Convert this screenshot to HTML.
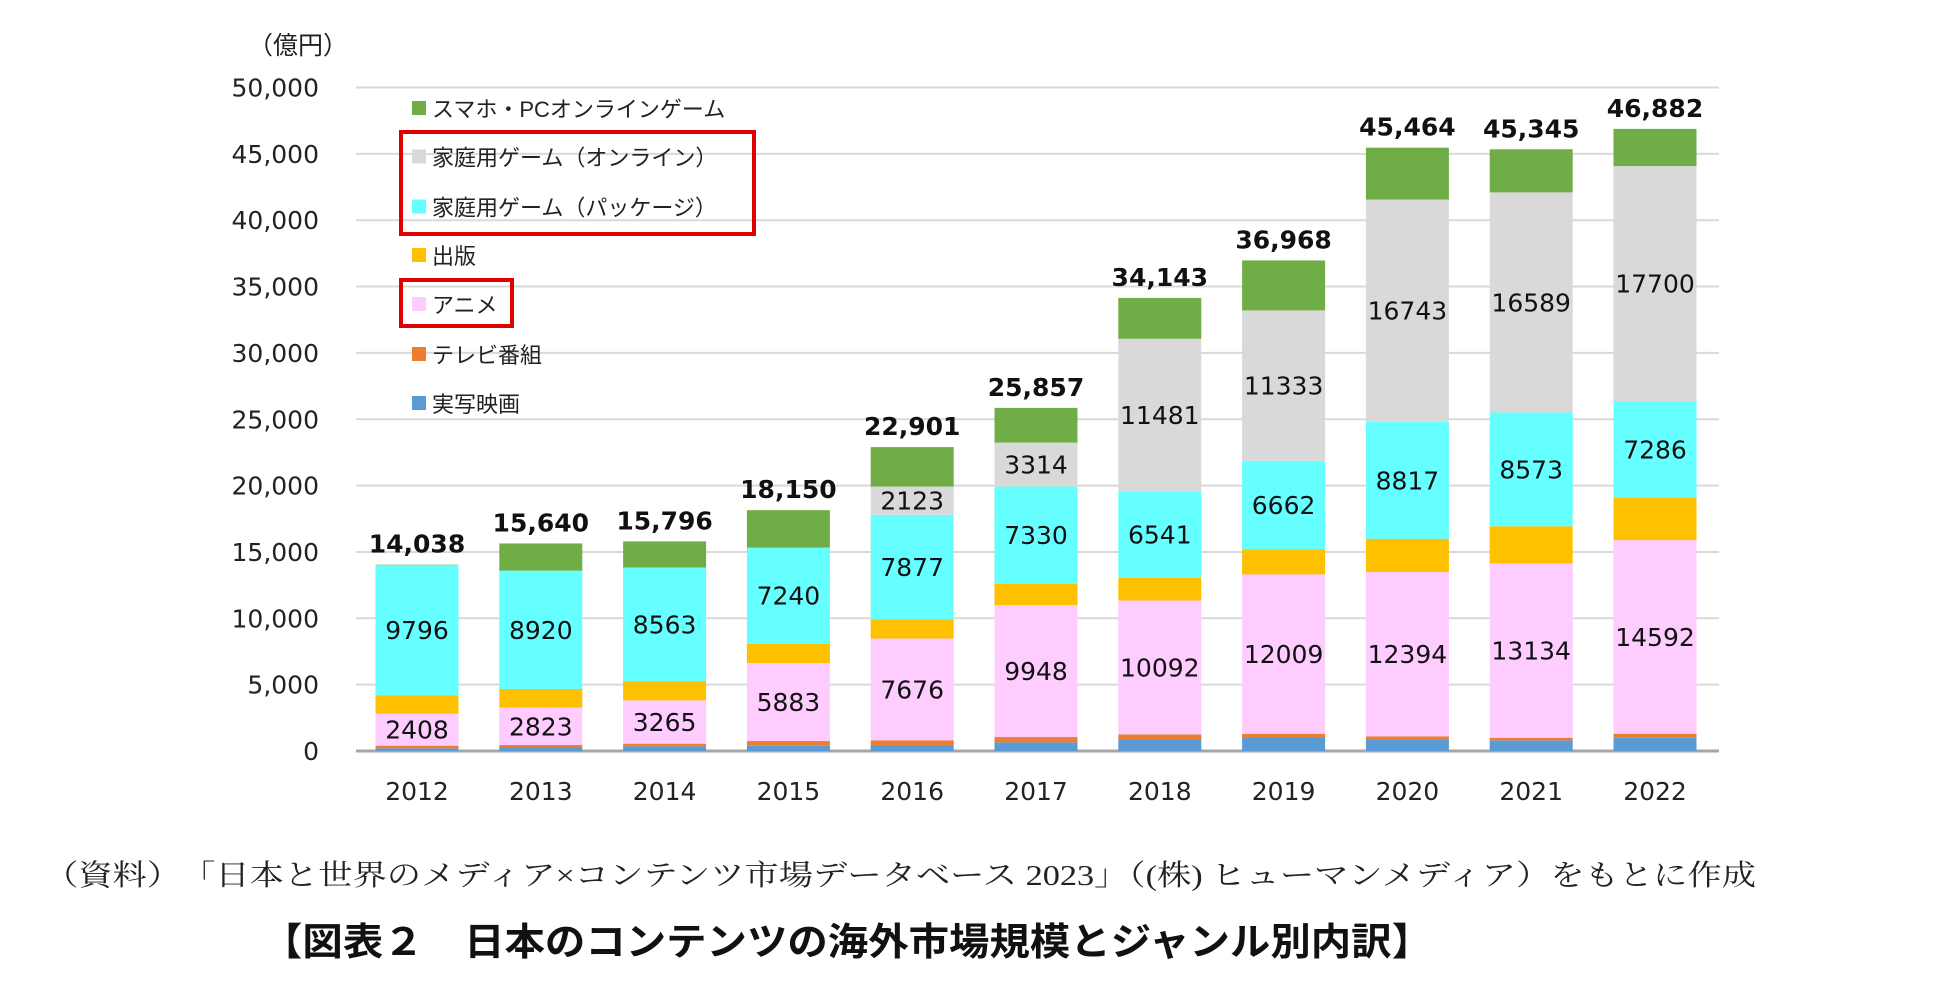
<!DOCTYPE html>
<html><head><meta charset="utf-8">
<style>
html,body{margin:0;padding:0;background:#fff;}
svg{display:block;}
</style></head>
<body>
<svg id="chart" width="1950" height="989" xmlns="http://www.w3.org/2000/svg">
  <text x="248" y="54" font-family="Liberation Sans, Noto Sans CJK JP, sans-serif" font-size="25" fill="#222">（億円）</text>
  <g id="grid"></g>
  <g id="bars"></g>
  <g id="labels"></g>
  <g id="legend"></g>
  <rect x="401" y="132" width="353" height="102" fill="none" stroke="#e00000" stroke-width="4"/>
  <rect x="401" y="280" width="111" height="46" fill="none" stroke="#e00000" stroke-width="4"/>
  <text x="44" y="885" textLength="1712" lengthAdjust="spacingAndGlyphs" font-family="Liberation Serif, Noto Serif CJK SC, serif" font-size="29" fill="#222">（資料）　「日本と世界のメディア×コンテンツ市場データベース 2023」（(株) ヒューマンメディア）をもとに作成</text>
  <text x="262" y="955" textLength="1170" lengthAdjust="spacingAndGlyphs" font-family="Liberation Sans, Noto Sans CJK JP, sans-serif" font-size="38" font-weight="bold" fill="#111">【図表２　日本のコンテンツの海外市場規模とジャンル別内訳】</text>
</svg>
<script>
const years = ["2012","2013","2014","2015","2016","2017","2018","2019","2020","2021","2022"];
const film = [200,300,350,400,450,650,900,1050,900,800,1000];
const tv = [200,150,200,350,350,400,350,250,200,200,300];
const anime = [2408,2823,3265,5883,7676,9948,10092,12009,12394,13134,14592];
const publishing = [1400,1400,1450,1450,1450,1600,1700,1900,2500,2800,3200];
const packageGame = [9796,8920,8563,7240,7877,7330,6541,6662,8817,8573,7286];
const onlineGame = [0,0,0,0,2123,3314,11481,11333,16743,16589,17700];
const mobileGame = [34,2047,1968,2827,2975,2615,3079,3764,3910,3249,2804];
const totals = [14038,15640,15796,18150,22901,25857,34143,36968,45464,45345,46882];
const yTicks = [0,5000,10000,15000,20000,25000,30000,35000,40000,45000,50000];
const seriesNames = ["スマホ・PCオンラインゲーム","家庭用ゲーム（オンライン）","家庭用ゲーム（パッケージ）","出版","アニメ","テレビ番組","実写映画"];

const NS="http://www.w3.org/2000/svg";
const X0=356, X1=1719, Y0=751, YTOP=87.5, YMAX=50000;
const step=123.8, first=417, barW=83;
const y=v=>Y0-(v/YMAX)*(Y0-YTOP);
const xc=i=>first+i*step;
function mk(tag,attrs,parent){const e=document.createElementNS(NS,tag);for(const k in attrs)e.setAttribute(k,attrs[k]);parent.appendChild(e);return e;}
const grid=document.getElementById('grid'), bars=document.getElementById('bars'), labels=document.getElementById('labels'), legend=document.getElementById('legend');
const fnt='"DejaVu Sans", Verdana, sans-serif';

yTicks.forEach(t=>{
  const l=mk('line',{x1:X0,x2:X1,y1:y(t),y2:y(t),stroke:t===0?'#a6a6a6':'#d9d9d9','stroke-width':t===0?3:2},grid);
  
  
  const tx=mk('text',{x:319,y:y(t)+9,'text-anchor':'end','font-family':fnt,'font-size':25,fill:'#222'},grid);
  tx.textContent=t.toLocaleString('en-US');
  
  
});

const series=[
 {key:'film',data:film,color:'#5b9bd5',label:false},
 {key:'tv',data:tv,color:'#ed7d31',label:false},
 {key:'anime',data:anime,color:'#ffccff',label:true},
 {key:'publishing',data:publishing,color:'#ffc000',label:false},
 {key:'package-game',data:packageGame,color:'#66ffff',label:true},
 {key:'online-game',data:onlineGame,color:'#d9d9d9',label:true},
 {key:'mobile-game',data:mobileGame,color:'#70ad47',label:false}
];

years.forEach((yr,i)=>{
  let base=0;
  const cx=xc(i);
  series.forEach(s=>{
    const v=s.data[i];
    if(v>0){
      const r=mk('rect',{x:cx-barW/2,y:y(base+v),width:barW,height:y(base)-y(base+v),fill:s.color},bars);
      
      
      if(s.label && v>1000){
        const t=mk('text',{x:cx,y:(y(base)+y(base+v))/2+9,'text-anchor':'middle','font-family':fnt,'font-size':25,fill:'#111'},labels);
        t.textContent=String(v);
        
        
      }
    }
    base+=v;
  });
  const tt=mk('text',{x:cx,y:y(totals[i])-12,'text-anchor':'middle','font-family':fnt,'font-size':25,'font-weight':'bold',fill:'#111'},labels);
  tt.textContent=totals[i].toLocaleString('en-US');
  
  
  const xl=mk('text',{x:cx,y:800,'text-anchor':'middle','font-family':fnt,'font-size':25,fill:'#222'},labels);
  xl.textContent=yr;
  
  
});

const legColors=['#70ad47','#d9d9d9','#66ffff','#ffc000','#ffccff','#ed7d31','#5b9bd5'];
const legY=[109,157.5,207.5,256,305,355,404];
seriesNames.forEach((n,k)=>{
  const r=mk('rect',{x:412,y:legY[k]-8,width:14,height:14,fill:legColors[k]},legend);
  
  
  const t=mk('text',{x:432,y:legY[k]+8,'font-family':'"Liberation Sans","Noto Sans CJK JP",sans-serif','font-size':22,fill:'#222'},legend);
  t.textContent=n;
  
  
});
</script>
</body></html>
